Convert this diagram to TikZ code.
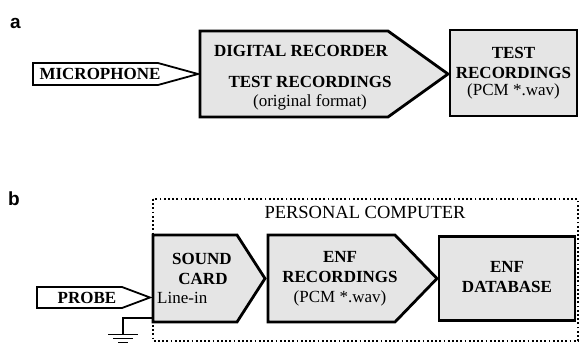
\documentclass[tikz,border=0pt]{standalone}
\usepackage{fontspec}
\setmainfont{Liberation Serif}
\newfontfamily\boxfont{Liberation Serif}
\newfontfamily\tagfont{Liberation Sans}
\usetikzlibrary{positioning}
\tikzset{
  blockbox/.style={draw, line width=2.8pt, fill=black!10, line join=miter},
  plugbox/.style={draw, line width=1.8pt, fill=white, line join=miter},
  boldtxt/.style={font=\boxfont\fontsize{17}{19}\selectfont\bfseries, inner sep=0pt, anchor=base},
  plaintxt/.style={font=\boxfont\fontsize{17}{19}\selectfont, inner sep=0pt, anchor=base},
  paneltag/.style={font=\tagfont\fontsize{19}{19}\selectfont\bfseries, inner sep=0pt, anchor=base west},
  pcframe/.style={draw, line width=1.8pt, dash pattern=on 1.8pt off 2.4pt},
  wire/.style={draw, line width=1.8pt},
}

\begin{document}
\begin{tikzpicture}[x=1pt, y=-1pt]
  \useasboundingbox (0,0) rectangle (581,343);

  % --- a: recorder chain
  \node[paneltag] (taga) at (10,28) {a};
  \draw[plugbox] (33,63) -- (158,63) -- (198,74) -- (158,85) -- (33,85) -- cycle;
  \node[boldtxt] (mic) at (100,79.5) {MICROPHONE};
  \draw[blockbox] (200,31) -- (388,31) -- (448,74) -- (388,117) -- (200,117) -- cycle;
  \node[boldtxt] (recorder) at (301,56) {DIGITAL RECORDER};
  \node[boldtxt] (testrec) at (310,87) {TEST RECORDINGS};
  \node[plaintxt] (origfmt) at (310,106) {(original format)};
  \node[blockbox, minimum width=127pt, minimum height=86pt] (wavbox) at (513.5,73) {};
  \node[boldtxt] (wavA) at (wavbox.center |- 0,58) {TEST};
  \node[boldtxt] (wavB) at (wavbox.center |- 0,78) {RECORDINGS};
  \node[plaintxt] (wavC) at (wavbox.center |- 0,95) {(PCM *.wav)};

  % --- b: measuring chain
  \node[paneltag] (tagb) at (8,205) {b};
  \draw[pcframe] (153,199) rectangle (578,341);
  \node[plaintxt, font=\boxfont\fontsize{18.5}{19}\selectfont] (pc) at (365,218) {PERSONAL COMPUTER};
  \draw[plugbox] (37,287) -- (122,287) -- (150,297.5) -- (122,308) -- (37,308) -- cycle;
  \node[boldtxt] (probe) at (87,303.5) {PROBE};
  \draw[blockbox] (153,235) -- (237,235) -- (265,278.5) -- (237,322) -- (153,322) -- cycle;
  \node[boldtxt] (soundA) at (202,264.5) {SOUND};
  \node[boldtxt] (soundB) at (203,284.5) {CARD};
  \node[plaintxt, anchor=base west] (linein) at (157,303) {Line-in};
  \draw[blockbox] (268,235) -- (395,235) -- (437,278.5) -- (395,322) -- (268,322) -- cycle;
  \node[boldtxt] (enfA) at (340,262.5) {ENF};
  \node[boldtxt] (enfB) at (340,282.5) {RECORDINGS};
  \node[plaintxt] (enfC) at (340,302) {(PCM *.wav)};
  \node[blockbox, minimum width=136pt, minimum height=84pt] (dbbox) at (507,278.5) {};
  \node[boldtxt] (dbA) at (dbbox.center |- 0,272.5) {ENF};
  \node[boldtxt] (dbB) at (dbbox.center |- 0,292.5) {DATABASE};

  % ground lead
  \coordinate (jack) at (153,318);
  \coordinate (gnd) at (123,334.5);
  \draw[wire] (jack) -| (gnd);
  \draw[wire] ([xshift=-15pt]gnd) -- ([xshift=15pt]gnd);
  \draw[wire] ([xshift=-10pt,yshift=-4pt]gnd) -- ([xshift=10pt,yshift=-4pt]gnd);
  \draw[wire] ([xshift=-5pt,yshift=-8pt]gnd) -- ([xshift=5pt,yshift=-8pt]gnd);
\end{tikzpicture}
\end{document}
